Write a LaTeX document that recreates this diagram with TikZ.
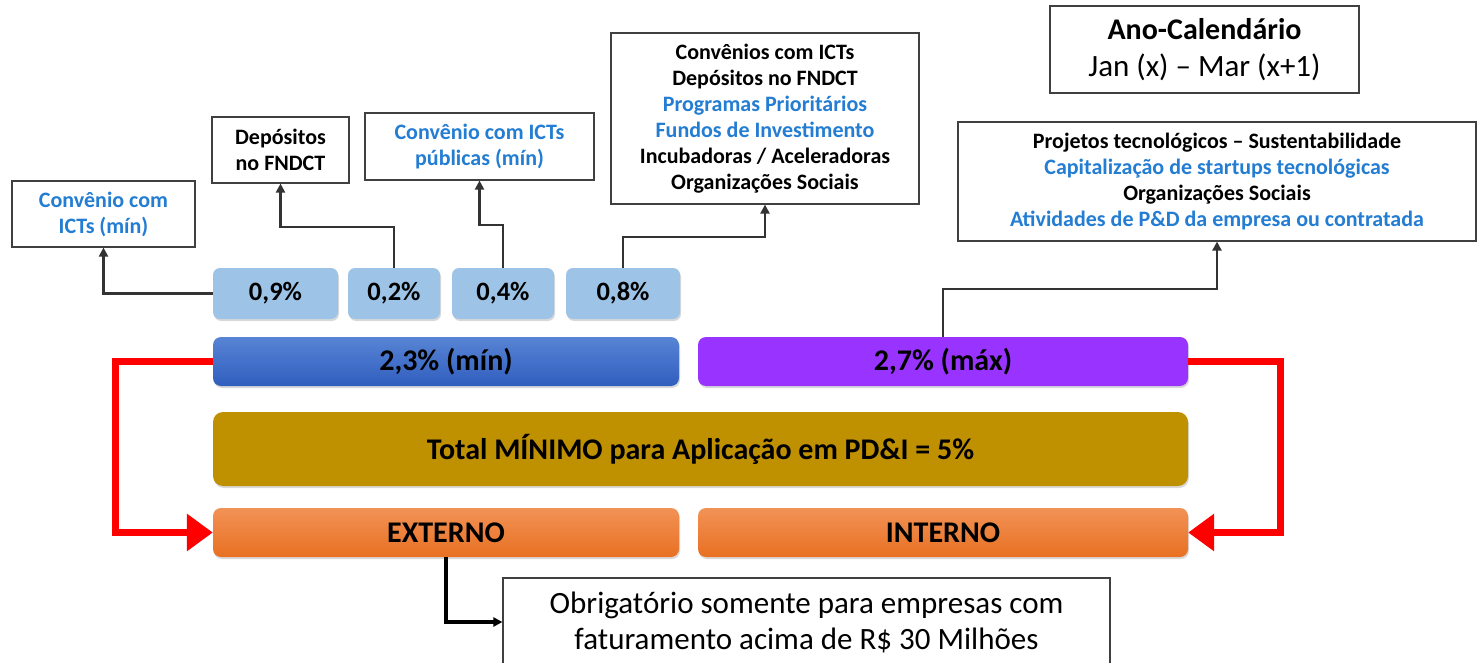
\documentclass[tikz,border=0pt]{standalone}
\usepackage{fontspec}
\setmainfont{Carlito}
\usetikzlibrary{arrows.meta,shadows}

\definecolor{azul}{RGB}{35,125,210}
\definecolor{azulclaro}{RGB}{157,195,230}
\definecolor{roxo}{RGB}{153,51,255}
\definecolor{ouro}{RGB}{191,144,0}

\begin{document}
\begin{tikzpicture}[x=1pt,y=-1pt,
  caixa/.style={draw=black!75, line width=1.2pt, fill=white, align=center, inner sep=0pt, font=\bfseries\fontsize{22}{26}\selectfont},
  pct/.style={rounded corners=7pt, fill=azulclaro, inner sep=0pt, minimum height=51pt, font=\bfseries\fontsize{26.5}{30}\selectfont, drop shadow={shadow xshift=1pt,shadow yshift=-2pt,opacity=0.3}},
  barra/.style={rounded corners=8pt, inner sep=0pt, minimum height=49pt, font=\bfseries\fontsize{30}{34}\selectfont, drop shadow={shadow xshift=1pt,shadow yshift=-2pt,opacity=0.3}},
  conn/.style={draw=black!80, line width=2.2pt, -{Triangle[length=9pt,width=9pt]}},
  vermelho/.style={draw=red, line width=7pt, -{Triangle[length=26pt,width=36pt]}}]
\clip (0,0) rectangle (1478,663);

% caixas de destino
\node[caixa, minimum width=183pt, minimum height=66pt, text=azul] (icts) at (103.5,214) {Convênio com\\ICTs (mín)};
\node[caixa, minimum width=137pt, minimum height=66pt] (fndct) at (280.5,150) {Depósitos\\no FNDCT};
\node[caixa, minimum width=229pt, minimum height=67pt, text=azul] (publicas) at (479.5,146.5) {Convênio com ICTs\\públicas (mín)};
\node[caixa, minimum width=308pt, minimum height=171pt] (lista) at (765,118.5) {Convênios com ICTs\\Depósitos no FNDCT\\\textcolor{azul}{Programas Prioritários}\\\textcolor{azul}{Fundos de Investimento}\\Incubadoras / Aceleradoras\\Organizações Sociais};
\node[caixa, minimum width=309pt, minimum height=87pt, font=\fontsize{30}{37}\selectfont] (ano) at (1204.5,49.5) {{\bfseries Ano-Calendário}\\\fontsize{31}{37}\selectfont Jan (x) – Mar (x+1)};
\node[caixa, minimum width=518pt, minimum height=119pt] (interna) at (1217,181.5) {Projetos tecnológicos – Sustentabilidade\\\textcolor{azul}{Capitalização de startups tecnológicas}\\Organizações Sociais\\\textcolor{azul}{Atividades de P\&D da empresa ou contratada}};

% percentuais
\foreach \n/\x/\w/\t in {p1/275.5/125/{0,9\%}, p2/394/92/{0,2\%}, p3/503/102/{0,4\%}, p4/623/114/{0,8\%}}
  \node[pct, minimum width=\w pt] (\n) at (\x,293.5) {\t};

% barras
\node[barra, minimum width=466pt, top color={rgb,255:red,88;green,132;blue,212}, bottom color={rgb,255:red,48;green,94;blue,190}] (minimo) at (446,361.5) {2,3\% (mín)};
\node[barra, minimum width=490pt, fill=roxo] (maximo) at (943,361.5) {2,7\% (máx)};
\node[barra, minimum width=975pt, minimum height=74pt, fill=ouro, rounded corners=10pt] (total) at (700.5,449) {Total MÍNIMO para Aplicação em PD\&I = 5\%};
\node[barra, minimum width=466pt, top color={rgb,255:red,242;green,146;blue,86}, bottom color={rgb,255:red,232;green,112;blue,34}] (externo) at (446,532.5) {EXTERNO};
\node[barra, minimum width=490pt, top color={rgb,255:red,242;green,146;blue,86}, bottom color={rgb,255:red,232;green,112;blue,34}] (interno) at (943,532.5) {INTERNO};

\node[caixa, minimum width=607pt, minimum height=88pt, font=\fontsize{31}{36}\selectfont] (obrig) at (806.5,622) {Obrigatório somente para empresas com\\faturamento acima de R\$ 30 Milhões};

% ligacoes
\draw[conn] (p1.west) -| (icts.south);
\draw[conn] (p2.north) -- ++(0,-41) -| (fndct.south);
\draw[conn] (p3.north) -- ++(0,-43) -| (publicas.south);
\draw[conn] (p4.north) -- ++(0,-31) -| (lista.south);
\draw[conn] (maximo.north) -- ++(0,-48) -| (interna.south);
\draw[conn, draw=black, line width=3.2pt] (externo.south) |- (obrig.west);
\draw[vermelho] (minimo.west) -- ++(-97,0) |- (externo.west);
\draw[vermelho] (maximo.east) -- ++(92,0) |- (interno.east);
\end{tikzpicture}
\end{document}
